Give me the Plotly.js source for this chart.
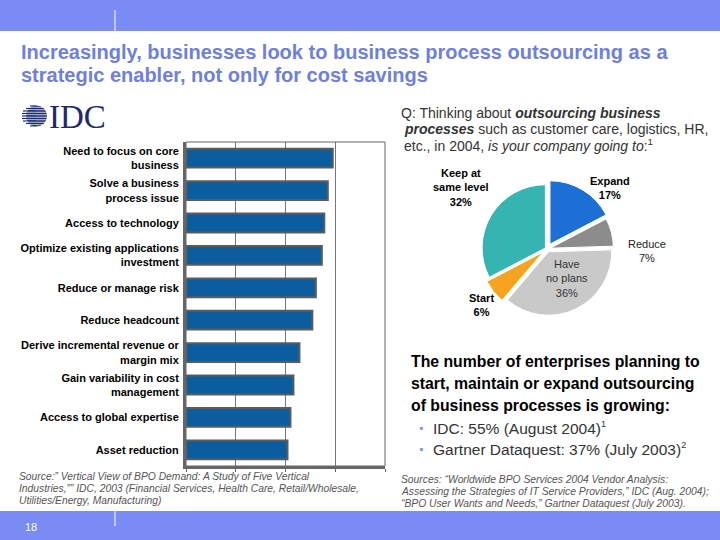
<!DOCTYPE html>
<html>
<head>
<meta charset="utf-8">
<script src="https://cdn.plot.ly/plotly-3.0.1.min.js"></script>
<style>
html,body{margin:0;padding:0;background:#fff;}
#chart{width:720px;height:540px;}
</style>
</head>
<body>
<div id="chart"></div>
<script>
// ---- data ----
var reasons = [
  "Need to focus on core<br>business",
  "Solve a business<br>process issue",
  "Access to technology",
  "Optimize existing applications<br>investment",
  "Reduce or manage risk",
  "Reduce headcount",
  "Derive incremental revenue or<br>margin mix",
  "Gain variability in cost<br>management",
  "Access to global expertise",
  "Asset reduction"
];
var reasonScores = [2.95, 2.85, 2.78, 2.73, 2.61, 2.54, 2.28, 2.16, 2.10, 2.04];

var planLabels = ["Expand", "Reduce", "Have no plans", "Start", "Keep at same level"];
var planValues = [17, 7, 36, 6, 32];
var planColors = ["#1c6fd4", "#8c8c8c", "#c9c9c9", "#f6a31f", "#36b4b1"];

var F = "Liberation Sans, Arial, sans-serif";
var W = 720, H = 540;
function px(x){return x/W;}
function py(y){return 1 - y/H;}
function A(x, y, text, o){
  o = o || {};
  return {
    xref:'paper', yref:'paper', x:px(x), y:py(y), text:text, showarrow:false,
    xanchor:o.xa||'left', yanchor:o.ya||'middle', align:o.align||'left',
    font:{family:o.family||F, size:o.size||11, color:o.color||'#000'}
  };
}

var annotations = [];
// title
annotations.push(A(19, 52, "<b>Increasingly, businesses look to business process outsourcing as a</b>", {size:20, color:'#6f80d8'}));
annotations.push(A(19, 75, "<b>strategic enabler, not only for cost savings</b>", {size:20, color:'#6f80d8'}));
// logo text
annotations.push(A(47, 117, "IDC", {size:33, color:'#1d2b6e', family:'Liberation Serif, DejaVu Serif, serif'}));
// question
annotations.push(A(399, 113, "Q: Thinking about <b><i>outsourcing business</i></b>", {size:14, color:'#333'}));
annotations.push(A(402, 129, "<b><i>processes</i></b> such as customer care, logistics, HR,", {size:14, color:'#333'}));
annotations.push(A(402, 145, "etc., in 2004, <i>is your company going to</i>:<sup>1</sup>", {size:14, color:'#333'}));
// pie labels
annotations.push(A(461, 187, "<b>Keep at<br>same level<br>" + planValues[4] + "%</b>", {size:11, xa:'center', align:'center'}));
annotations.push(A(610, 188, "<b>" + planLabels[0] + "<br>" + planValues[0] + "%</b>", {size:11, xa:'center', align:'center'}));
annotations.push(A(647, 251, planLabels[1] + "<br>" + planValues[1] + "%", {size:11, xa:'center', align:'center', color:'#222'}));
annotations.push(A(567, 278, "Have<br>no plans<br>" + planValues[2] + "%", {size:11, xa:'center', align:'center', color:'#333'}));
annotations.push(A(482, 305, "<b>" + planLabels[3] + "<br>" + planValues[3] + "%</b>", {size:11, xa:'center', align:'center'}));
// growth text
annotations.push(A(409, 361, "<b>The number of enterprises planning to</b>", {size:15.8}));
annotations.push(A(409, 383, "<b>start, maintain or expand outsourcing</b>", {size:15.8}));
annotations.push(A(409, 405, "<b>of business processes is growing:</b>", {size:15.8}));
annotations.push(A(417, 428, "▪", {size:12, color:'#8a9be0'}));
annotations.push(A(431, 428, "IDC: 55% (August 2004)<sup><span style='font-size:9px'>1</span></sup>", {size:15.5, color:'#333'}));
annotations.push(A(417, 449, "▪", {size:12, color:'#8a9be0'}));
annotations.push(A(431, 449, "Gartner Dataquest: 37% (July 2003)<sup><span style='font-size:9px'>2</span></sup>", {size:15.5, color:'#333'}));
// footnotes
var fl = {size:10.3, color:'#555'};
annotations.push(A(17, 476, "<i>Source:” Vertical View of BPO Demand: A Study of Five Vertical</i>", fl));
annotations.push(A(17, 488, "<i>Industries,”” IDC, 2003 (Financial Services, Health Care, Retail/Wholesale,</i>", fl));
annotations.push(A(17, 500, "<i>Utilities/Energy, Manufacturing)</i>", fl));
annotations.push(A(399, 479, "<i>Sources: “Worldwide BPO Services 2004 Vendor Analysis:</i>", fl));
annotations.push(A(399, 491, "<i>Assessing the Strategies of IT Service Providers,” IDC (Aug. 2004);</i>", fl));
annotations.push(A(399, 503, "<i>“BPO User Wants and Needs,” Gartner Dataquest (July 2003).</i>", fl));
// page number
annotations.push(A(23, 527, "18", {size:11, color:'#fff'}));

var shapes = [];
// bands
shapes.push({type:'rect', xref:'paper', yref:'paper', x0:0, x1:1, y0:py(31), y1:1, fillcolor:'#7a8bf4', line:{width:0}, layer:'below'});
shapes.push({type:'rect', xref:'paper', yref:'paper', x0:0, x1:1, y0:0, y1:py(511), fillcolor:'#7a8bf4', line:{width:0}, layer:'below'});
shapes.push({type:'line', xref:'paper', yref:'paper', x0:px(115), x1:px(115), y0:py(10), y1:py(31), line:{color:'#fff', width:1}});
shapes.push({type:'line', xref:'paper', yref:'paper', x0:px(115), x1:px(115), y0:py(511), y1:py(526), line:{color:'#fff', width:1}});
// logo globe
var stripeYs = [106, 108.5, 111, 113.5, 116, 118.5, 121, 123.5, 126];
var stripeLeft = [30, 26, 23, 22, 22, 22, 23, 26, 30];
shapes.push({type:'circle', xref:'paper', yref:'paper', x0:px(26), x1:px(47), y0:py(126.5), y1:py(105.5), fillcolor:'#1d2b6e', line:{width:0}});
for (var i=0;i<stripeYs.length;i++){
  shapes.push({type:'line', xref:'paper', yref:'paper', x0:px(stripeLeft[i]), x1:px(36), y0:py(stripeYs[i]), y1:py(stripeYs[i]), line:{color:'#1d2b6e', width:1.2}});
  shapes.push({type:'line', xref:'paper', yref:'paper', x0:px(25), x1:px(48), y0:py(stripeYs[i]+1.25), y1:py(stripeYs[i]+1.25), line:{color:'#fff', width:0.8}});
}
// bar frame (top & right thin)
shapes.push({type:'rect', xref:'paper', yref:'paper', x0:px(186), x1:px(385), y0:py(466), y1:py(142), line:{color:'#666', width:1}, fillcolor:'rgba(0,0,0,0)'});

var traces = [
  {
    type:'bar', orientation:'h', y:reasons, x:reasonScores,
    marker:{color:'#0b5e9e', line:{color:'#5c5c5c', width:2}},
    xaxis:'x', yaxis:'y', hoverinfo:'none'
  },
  {
    type:'pie', labels:planLabels, values:planValues, sort:false, direction:'clockwise',
    rotation:0, marker:{colors:planColors, line:{color:'#fff', width:1}},
    pull:[0.09, 0.05, 0.05, 0.08, 0.03], textinfo:'none', showlegend:false, hoverinfo:'none',
    domain:{x:[px(478), px(616)], y:[py(318), py(180)]}
  }
];

var layout = {
  width:W, height:H, margin:{l:0, r:0, t:0, b:0},
  paper_bgcolor:'#fff', plot_bgcolor:'#fff', showlegend:false,
  bargap:0.42,
  xaxis:{domain:[px(186), px(385)], range:[0,4], dtick:1, showticklabels:false,
         showgrid:true, gridcolor:'#777', gridwidth:1, zeroline:false,
         showline:true, linecolor:'#666', linewidth:3, ticks:'outside', ticklen:3, tickcolor:'#666', fixedrange:true},
  yaxis:{domain:[py(466), py(142)], autorange:'reversed', showline:true, linecolor:'#666', linewidth:3,
         ticks:'', showgrid:false, tickfont:{family:F, size:11, color:'#000', weight:'bold'}, ticklabelstandoff:2, fixedrange:true},
  shapes:shapes, annotations:annotations,
  font:{family:F}
};

Plotly.newPlot('chart', traces, layout, {displayModeBar:false, staticPlot:true});
</script>
</body>
</html>
